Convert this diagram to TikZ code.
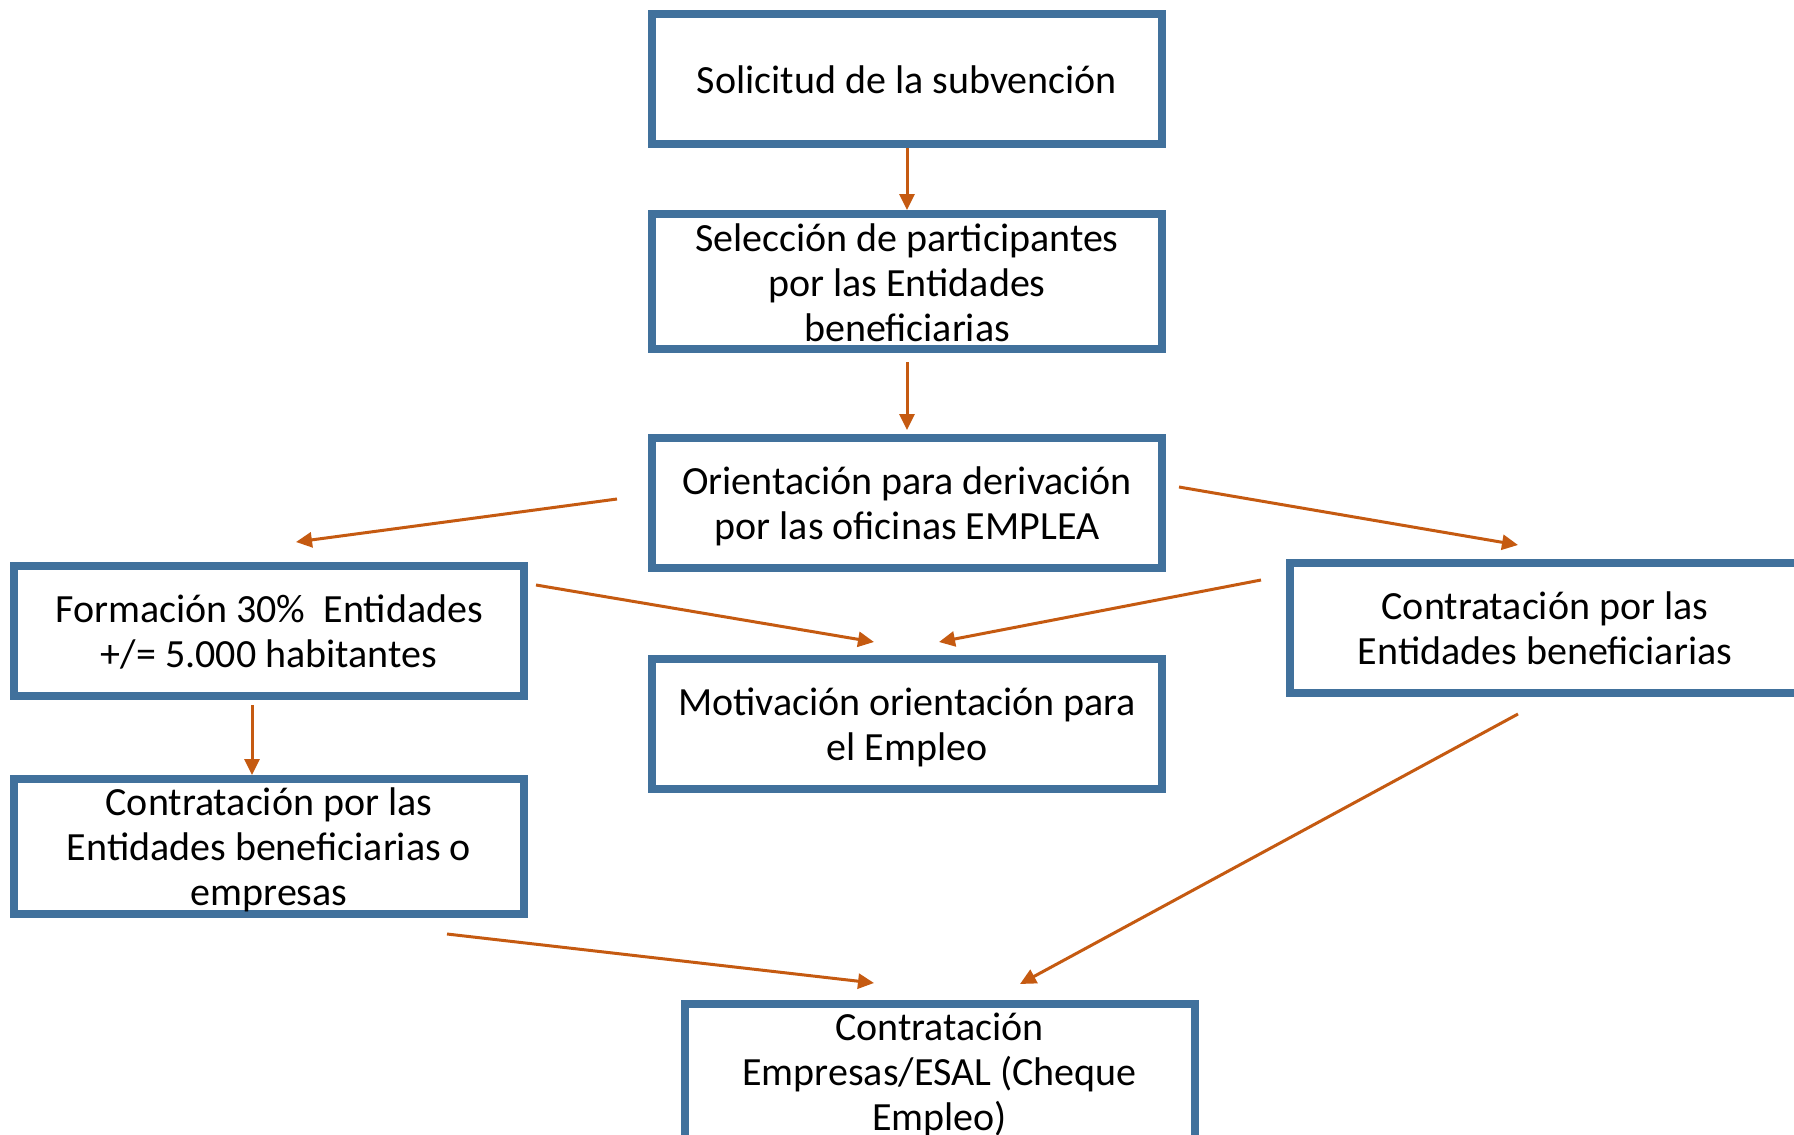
\documentclass[tikz,border=0pt]{standalone}
\usepackage{fontspec}
\setmainfont{Carlito}
\usetikzlibrary{arrows.meta}
\definecolor{boxblue}{HTML}{41719C}
\definecolor{arrorange}{HTML}{C55A11}
\newcommand\boxline[1]{\rule[-8pt]{0pt}{45pt}\smash{#1}}
\begin{document}
\begin{tikzpicture}[x={(1pt,0pt)},y={(0pt,-1pt)},
  box/.style={draw=boxblue, line width=8pt, rectangle, minimum width=510pt,
    minimum height=130pt, inner sep=0pt, align=center,
    font=\fontsize{40}{45}\selectfont, text=black},
  conn/.style={draw=arrorange, line width=3pt, -{Triangle[length=16pt,width=15pt]}}]
\useasboundingbox (0,0) rectangle (1794,1135);
\fill[white] (0,0) rectangle (1794,1135);
\clip (0,0) rectangle (1794,1135);

\node[box] (b1) at (907,79) {\boxline{Solicitud de la subvención}};
\node[box] (b2) at (907,281.5) {\boxline{Selección de participantes}\\\boxline{por las Entidades}\\\boxline{beneficiarias}};
\node[box] (b3) at (907,502.5) {\boxline{Orientación para derivación}\\\boxline{por las oficinas EMPLEA}};
\node[box] (b6) at (907,723.5) {\boxline{Motivación orientación para}\\\boxline{el Empleo}};
\node[box] (b4) at (269,630.5) {\boxline{Formación 30\%\ \ Entidades}\\\boxline{+/= 5.000 habitantes}};
\node[box] (b5) at (269,846) {\boxline{Contratación por las}\\\boxline{Entidades beneficiarias o}\\\boxline{empresas}};
\node[box] (b7) at (1545,627.5) {\boxline{Contratación por las}\\\boxline{Entidades beneficiarias}};
\node[box] (b8) at (939.5,1071) {\boxline{Contratación}\\\boxline{Empresas/ESAL (Cheque}\\\boxline{Empleo)}};

\coordinate (a2s) at (907,362);  \coordinate (a2e) at (907,430);
\coordinate (a3s) at (617,499);  \coordinate (a3e) at (296,542);
\coordinate (a4s) at (1179,487); \coordinate (a4e) at (1518,545);
\coordinate (a5s) at (536,585);  \coordinate (a5e) at (874,642);
\coordinate (a6s) at (1261,580); \coordinate (a6e) at (939,642);
\coordinate (a7s) at (252,705);  \coordinate (a7e) at (252,775);
\coordinate (a8s) at (447,934);  \coordinate (a8e) at (874,983);
\coordinate (a9s) at (1518,714); \coordinate (a9e) at (1020,984);

\draw[conn] (b1.south) -- (b2.north);
\draw[conn] (a2s) -- (a2e);
\draw[conn] (a3s) -- (a3e);
\draw[conn] (a4s) -- (a4e);
\draw[conn] (a5s) -- (a5e);
\draw[conn] (a6s) -- (a6e);
\draw[conn] (a7s) -- (a7e);
\draw[conn] (a8s) -- (a8e);
\draw[conn] (a9s) -- (a9e);
\end{tikzpicture}
\end{document}
